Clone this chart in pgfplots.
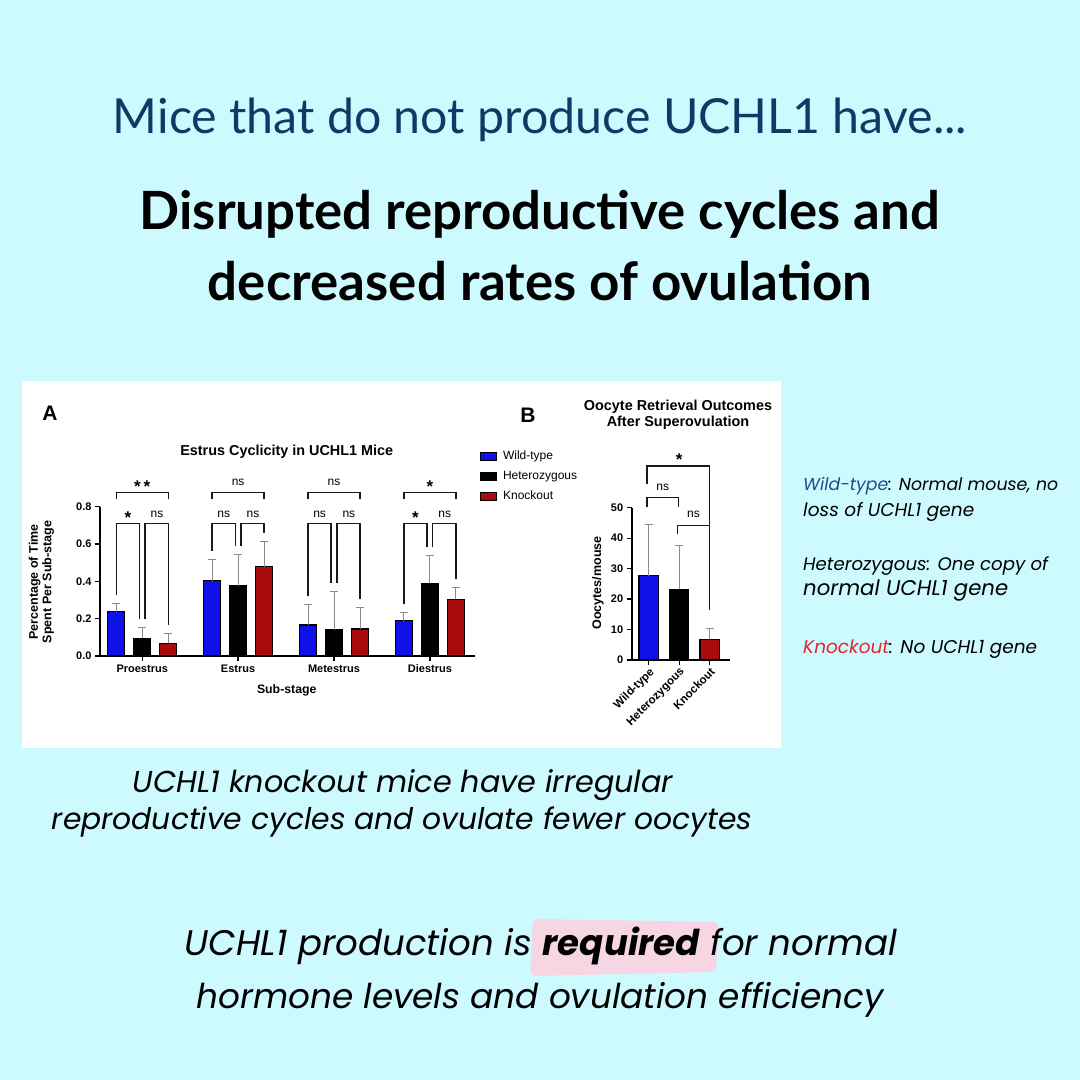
\documentclass[border=0pt]{standalone}
\usepackage{fontspec}
\usepackage{graphicx}
\usepackage{pgfplots}
\pgfplotsset{compat=1.18}
\setmainfont{Liberation Sans}
\newfontfamily\headfont{Lato}
\newfontfamily\capfont{Poppins}
\definecolor{bg}{HTML}{CDFAFE}
\definecolor{titleblue}{HTML}{0E3B65}
\definecolor{wtblue}{HTML}{1010E8}
\definecolor{korred}{HTML}{A80C0C}
\definecolor{errgray}{HTML}{8A8A8A}
\definecolor{txtblue}{HTML}{1F4E8C}
\definecolor{txtred}{HTML}{E0282E}
\definecolor{hl}{HTML}{F6D6E2}

\tikzset{brkst/.style={black!90, line width=1.3pt}}
\pgfplotsset{
  myax/.style={scale only axis, clip=false,
    axis x line*=bottom, axis y line*=left,
    axis line style={-, line width=1.6pt, black},
    tick style={black, line width=1.3pt},
    tick align=outside, major tick length=5pt,
    ticklabel style={font=\bfseries\fontsize{11}{11}\selectfont},
    /pgf/number format/assume math mode=true,
    every axis title shift=0pt,
    ybar},
  barleg/.style={legend image code/.code={\draw[##1, line width=1pt] (0pt,-4pt) rectangle (16pt,4pt);}},
  errs/.style={error bars/.cd, y dir=plus, y explicit,
    error bar style={errgray, line width=1pt},
    error mark options={errgray, line width=1pt, mark size=4pt, rotate=90}},
}
\newcommand{\brk}[5]{\draw[brkst] (axis cs:#1,#3) -- (axis cs:#1,#4) -- (axis cs:#2,#4) -- (axis cs:#2,#5);}
\newcommand{\astfont}{\bfseries\fontsize{17}{17}\selectfont}

\pgfplotstableread{
x wt wte het hete ko koe
0 0.237 0.043 0.095 0.059 0.068 0.053
1 0.404 0.114 0.375 0.170 0.479 0.132
2 0.166 0.111 0.139 0.207 0.145 0.116
3 0.189 0.045 0.389 0.148 0.304 0.064
}\estrus

\begin{document}
\begin{tikzpicture}[x=1pt,y=1pt]
\fill[bg] (0,0) rectangle (1080,1080);
\fill[white] (22,332) rectangle (781,699);

% headings
\node[anchor=base, inner sep=0pt] at (540,946) {\resizebox{854pt}{!}{\headfont\color{titleblue}Mice that do not produce UCHL1 have...}};
\node[anchor=base, inner sep=0pt] at (540,850) {\resizebox{800pt}{!}{\headfont\bfseries Disrupted reproductive cycles and}};
\node[anchor=base, inner sep=0pt] at (540,779) {\resizebox{664pt}{!}{\headfont\bfseries decreased rates of ovulation}};

% right notes
\node[anchor=base west, inner sep=0pt] at (803,589) {\resizebox{255pt}{!}{\capfont\itshape{\color{txtblue}Wild-type}: Normal mouse, no}};
\node[anchor=base west, inner sep=0pt] at (803,563) {\resizebox{171pt}{!}{\capfont\itshape loss of UCHL1 gene}};
\node[anchor=base west, inner sep=0pt] at (803,509) {\resizebox{245pt}{!}{\capfont\itshape Heterozygous: One copy of}};
\node[anchor=base west, inner sep=0pt] at (803,484) {\resizebox{205pt}{!}{\capfont\itshape normal UCHL1 gene}};
\node[anchor=base west, inner sep=0pt] at (803,426) {\resizebox{234pt}{!}{\capfont\itshape{\color{txtred}Knockout}: No UCHL1 gene}};

% caption
\node[anchor=base, inner sep=0pt] at (403,287) {\resizebox{540pt}{!}{\capfont\itshape UCHL1 knockout mice have irregular}};
\node[anchor=base, inner sep=0pt] at (402,250) {\resizebox{700pt}{!}{\capfont\itshape reproductive cycles and ovulate fewer oocytes}};

% conclusion
\fill[hl, rounded corners=6pt] (530,104) -- (716,108) -- (719,158) -- (533,161) -- cycle;
\node[anchor=base, inner sep=0pt] at (541,124) {\resizebox{712pt}{!}{\capfont\itshape UCHL1 production is \textbf{required} for normal}};
\node[anchor=base, inner sep=0pt] at (540,71) {\resizebox{687pt}{!}{\capfont\itshape hormone levels and ovulation efficiency}};

% panel letters
\node[font=\bfseries\fontsize{21}{21}\selectfont] at (50,667) {A};
\node[font=\bfseries\fontsize{21}{21}\selectfont] at (528,665) {B};

% Panel A
\begin{axis}[myax, at={(100pt,424pt)}, anchor=south west,
  width=375pt, height=149.3pt,
  xmin=-0.44, xmax=3.47, ymin=0, ymax=0.8,
  bar width=17pt,
  xtick={0,1,2,3}, xticklabels={Proestrus,Estrus,Metestrus,Diestrus},
  ytick={0,0.2,0.4,0.6,0.8},
  yticklabel style={/pgf/number format/.cd, fixed, fixed zerofill, precision=1},
  title={Estrus Cyclicity in UCHL1 Mice},
  title style={at={(axis description cs:0.498,1.368)}, anchor=center, font=\bfseries\fontsize{14.4}{16}\selectfont},
  xlabel={Sub-stage},
  xlabel style={at={(axis description cs:0.498,-0.232)}, anchor=center, font=\bfseries\fontsize{12.3}{14}\selectfont},
  ylabel={Percentage of Time\\Spent Per Sub-stage},
  ylabel style={at={(axis description cs:-0.156,0.496)}, anchor=center, align=center, font=\bfseries\fontsize{12.5}{13.5}\selectfont},
  legend style={at={(axis description cs:1.013,1.386)}, anchor=north west, draw=none, fill=none,
    font=\fontsize{12}{14}\selectfont, row sep=6pt, column sep=4pt, inner sep=0pt},
  legend cell align=left,
]
\addplot[fill=wtblue, draw=black, line width=1.2pt, bar shift=-26pt, barleg, errs] table[x=x, y=wt, y error=wte] {\estrus};
\addlegendentry{Wild-type}
\addplot[fill=black, draw=black, line width=1.2pt, bar shift=0pt, barleg, errs] table[x=x, y=het, y error=hete] {\estrus};
\addlegendentry{Heterozygous}
\addplot[fill=korred, draw=black, line width=1.2pt, bar shift=26pt, barleg, errs] table[x=x, y=ko, y error=koe] {\estrus};
\addlegendentry{Knockout}

% brackets Proestrus
\brk{-0.271}{0.271}{0.84}{0.875}{0.84}
\brk{-0.271}{-0.03}{0.327}{0.709}{0.20}
\brk{0.03}{0.271}{0.20}{0.709}{0.168}
\node[anchor=base, font=\astfont] at (axis cs:0,0.878) {*\,*};
\node[anchor=base, font=\astfont] at (axis cs:-0.15,0.708) {*};
\node[anchor=base, font=\fontsize{12}{12}\selectfont] at (axis cs:0.155,0.743) {ns};
% Estrus
\brk{0.729}{1.271}{0.84}{0.875}{0.84}
\brk{0.729}{0.97}{0.565}{0.709}{0.592}
\brk{1.03}{1.271}{0.592}{0.709}{0.658}
\node[anchor=base, font=\fontsize{12}{12}\selectfont] at (axis cs:1,0.913) {ns};
\node[anchor=base, font=\fontsize{12}{12}\selectfont] at (axis cs:0.85,0.743) {ns};
\node[anchor=base, font=\fontsize{12}{12}\selectfont] at (axis cs:1.155,0.743) {ns};
% Metestrus
\brk{1.729}{2.271}{0.84}{0.875}{0.84}
\brk{1.729}{1.97}{0.324}{0.709}{0.393}
\brk{2.03}{2.271}{0.393}{0.709}{0.308}
\node[anchor=base, font=\fontsize{12}{12}\selectfont] at (axis cs:2,0.913) {ns};
\node[anchor=base, font=\fontsize{12}{12}\selectfont] at (axis cs:1.85,0.743) {ns};
\node[anchor=base, font=\fontsize{12}{12}\selectfont] at (axis cs:2.155,0.743) {ns};
% Diestrus
\brk{2.729}{3.271}{0.84}{0.875}{0.84}
\brk{2.729}{2.97}{0.281}{0.709}{0.584}
\brk{3.03}{3.271}{0.584}{0.709}{0.415}
\node[anchor=base, font=\astfont] at (axis cs:3,0.878) {*};
\node[anchor=base, font=\astfont] at (axis cs:2.85,0.708) {*};
\node[anchor=base, font=\fontsize{12}{12}\selectfont] at (axis cs:3.155,0.743) {ns};
\end{axis}

% Panel B
\begin{axis}[myax, at={(631.7pt,420pt)}, anchor=south west,
  width=98.3pt, height=152.3pt,
  xmin=-0.56, xmax=2.67, ymin=0, ymax=50,
  bar width=19.3pt,
  xtick={0,1,2}, xticklabels={Wild-type,Heterozygous,Knockout},
  xticklabel style={rotate=45, anchor=north east, inner sep=1pt, font=\bfseries\fontsize{11.5}{12}\selectfont},
  ytick={0,10,20,30,40,50},
  title={Oocyte Retrieval Outcomes\\After Superovulation},
  title style={at={(axis description cs:0.471,1.609)}, anchor=center, align=center, font=\bfseries\fontsize{14.4}{16.6}\selectfont},
  ylabel={Oocytes/mouse},
  ylabel style={at={(axis description cs:-0.343,0.506)}, anchor=center, font=\bfseries\fontsize{12.5}{13.5}\selectfont},
]
\addplot[fill=wtblue, draw=black, line width=1.2pt, bar shift=0pt, errs] coordinates {(0,27.7) +- (0,16.9)};
\addplot[fill=black, draw=black, line width=1.2pt, bar shift=0pt, errs] coordinates {(1,23.2) +- (0,14.3)};
\addplot[fill=korred, draw=black, line width=1.2pt, bar shift=0pt, errs] coordinates {(2,6.8) +- (0,3.6)};
\brk{-0.06}{0.97}{50.1}{53.3}{50.3}
\brk{0.94}{2}{41.4}{44.1}{16.4}
\brk{-0.06}{2}{57.8}{63.7}{16.4}
\node[anchor=base, font=\fontsize{12}{12}\selectfont] at (axis cs:0.46,55.7) {ns};
\node[anchor=base, font=\fontsize{12}{12}\selectfont] at (axis cs:1.47,46.8) {ns};
\node[anchor=base, font=\astfont] at (axis cs:1.0,64.0) {*};
\end{axis}

\pgfresetboundingbox
\useasboundingbox (0,0) rectangle (1080,1080);
\end{tikzpicture}
\end{document}
